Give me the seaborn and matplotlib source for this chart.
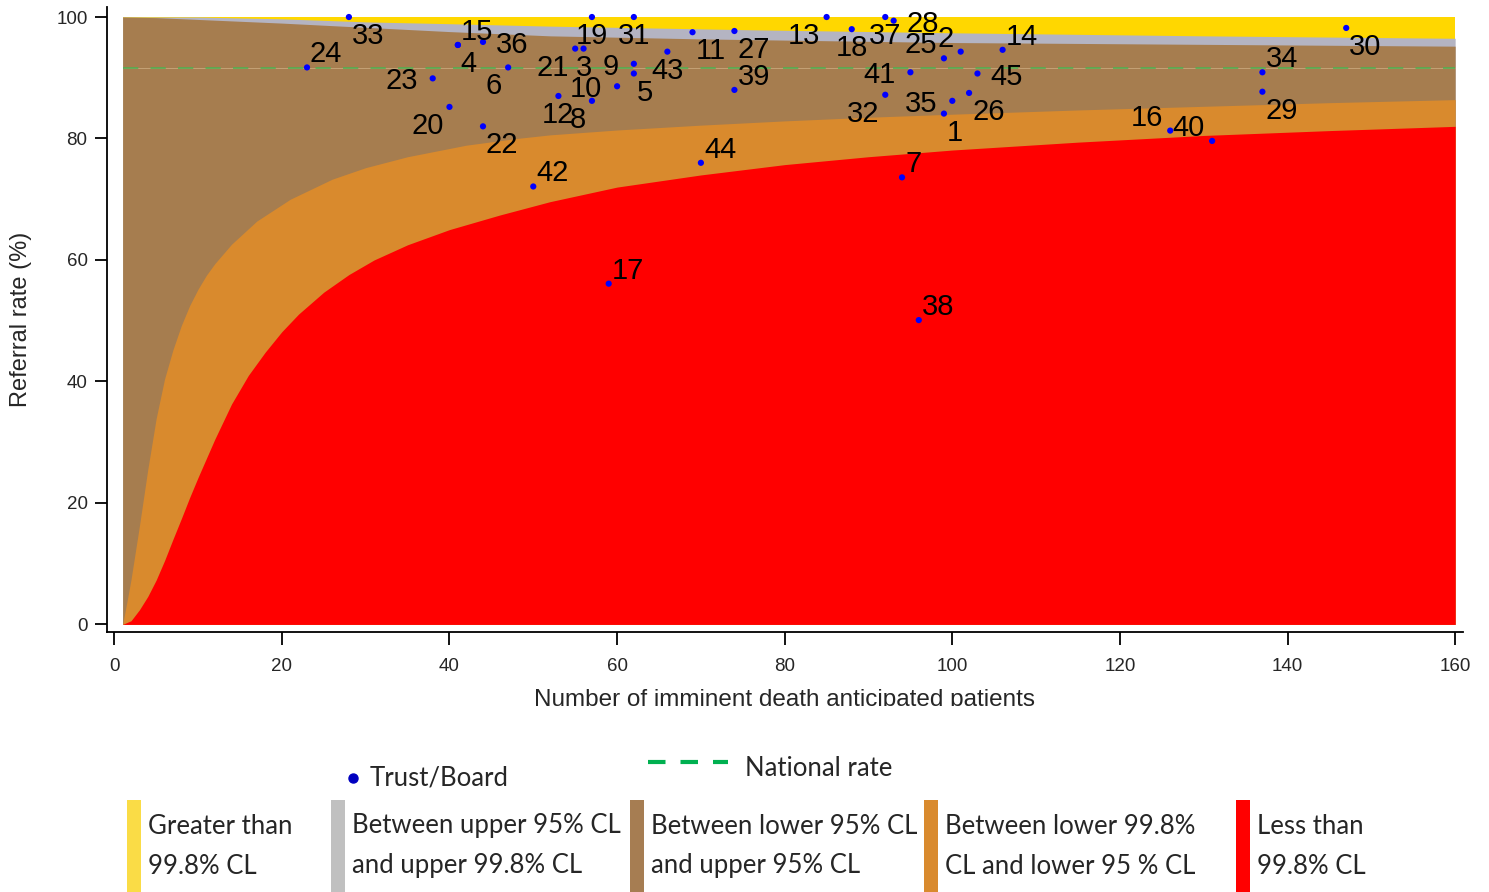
import matplotlib
matplotlib.use("Agg")
import matplotlib.pyplot as plt
from matplotlib.patches import Rectangle
from matplotlib.lines import Line2D
import numpy as np
import pandas as pd
import seaborn as sns

# ---- trust / board points ----
trust_ids = list(range(1, 46))
patients = [99, 101, 56, 41, 62, 47, 94, 57, 62, 60, 69, 53, 85, 106, 41,
            126, 59, 88, 57, 40, 55, 44, 38, 23, 99, 102, 74, 93, 137, 147,
            62, 92, 28, 137, 100, 44, 92, 96, 74, 131, 95, 50, 66, 70, 103]
referral_rate = [84.1, 94.3, 94.8, 95.4, 90.7, 91.7, 73.6, 86.2, 92.3, 88.6,
                 97.5, 87.0, 100, 94.6, 95.4, 81.3, 56.1, 98.0, 100, 85.2,
                 94.8, 82.0, 89.9, 91.7, 93.2, 87.5, 97.7, 99.4, 87.7, 98.2,
                 100, 87.2, 100, 90.9, 86.2, 95.9, 100, 50.1, 88.0, 79.6,
                 90.9, 72.1, 94.3, 76.0, 90.7]
national_rate = 91.6

# ---- funnel limits ----
n_lo998 = [1, 2, 3, 4, 5, 6, 7, 8, 9, 10, 12, 14, 16, 18, 20, 22, 25, 28, 31,
           35, 40, 46, 52, 60, 70, 80, 90, 100, 115, 130, 145, 160]
lo998 = [0, 0.6, 2.4, 4.6, 7.3, 10.5, 14.0, 17.4, 20.9, 24.2, 30.5, 36.3, 41.0,
         44.8, 48.2, 51.1, 54.7, 57.6, 60.0, 62.5, 65.0, 67.4, 69.6, 72.0,
         74.0, 75.7, 77.0, 78.1, 79.4, 80.5, 81.3, 82.0]

n_lo95 = [1, 1.5, 2, 3, 4, 5, 6, 7, 8, 9, 10, 11, 12, 14, 17, 21, 26, 30, 35,
          42, 48, 52, 60, 70, 80, 90, 100, 115, 130, 145, 160]
lo95 = [0, 3.6, 7.4, 16.2, 25.5, 33.9, 40.4, 45.2, 49.2, 52.5, 55.2, 57.5,
        59.4, 62.6, 66.4, 70.0, 73.3, 75.2, 77.0, 78.9, 80.0, 80.6, 81.4,
        82.2, 82.9, 83.5, 84.0, 84.7, 85.3, 85.9, 86.4]

n_up95 = [1, 5, 10, 20, 30, 40, 52, 70, 100, 130, 160]
up95 = [100, 99.9, 99.6, 99.0, 98.3, 97.6, 96.9, 96.4, 95.8, 95.5, 95.2]

n_up998 = [1, 10, 20, 30, 40, 52, 76, 100, 130, 160]
up998 = [100, 100, 99.7, 99.2, 98.9, 98.5, 97.9, 97.4, 96.9, 96.5]

# label position around each dot (clock face, like stata mlabvpos)
label_clock = [5, 11, 6, 5, 5, 7, 1, 7, 9, 9, 5, 6, 7, 1, 1, 11, 1, 6, 6, 7,
               7, 5, 9, 1, 11, 5, 5, 3, 5, 5, 6, 7, 5, 1, 9, 3, 6, 1, 1, 11,
               9, 1, 6, 1, 3]

legend_labels = [("Greater than", "99.8% CL"),
                 ("Between upper 95% CL", "and upper 99.8% CL"),
                 ("Between lower 95% CL", "and upper 95% CL"),
                 ("Between lower 99.8%", "CL and lower 95 % CL"),
                 ("Less than", "99.8% CL")]

YELLOW, GREY, BROWN, ORANGE, RED = "#FFD700", "#B4B4C2", "#A67D4F", "#D98A2D", "#FF0000"
LEG_COLS = ["#FADC46", "#C0C0C0", "#A67D52", "#D98A2E", "#FF0000"]

W, H = 1489, 892
sns.set_style("ticks")
plt.rcParams["font.family"] = ["Liberation Sans", "DejaVu Sans"]

fig = plt.figure(figsize=(W / 100, H / 100), dpi=100)
ax = fig.add_axes([106.7 / W, 1 - 632.3 / H, (1462.7 - 106.7) / W, (632.3 - 7.3) / H])

# bands, stacked from the top down
ax.fill_between([1, 160], 0, 100, color=YELLOW, lw=0)
ax.fill_between(n_up998, 0, up998, color=GREY, lw=0)
ax.fill_between(n_up95, 0, up95, color=BROWN, lw=0)
ax.fill_between(n_lo95, 0, lo95, color=ORANGE, lw=0)
ax.fill_between(n_lo998, 0, lo998, color=RED, lw=0)

ax.hlines(national_rate, 1, 160, color="#C9A77C", lw=0.6, zorder=3)
ax.hlines(national_rate, 1, 160, color="#4CB050", lw=1.1,
          linestyles=(0, (10, 8)), zorder=3)

df = pd.DataFrame({"id": trust_ids, "n": patients, "rate": referral_rate})
sns.scatterplot(data=df, x="n", y="rate", ax=ax, color="#0000FF", s=20,
                edgecolor="none", zorder=4, legend=False)

CLOCK = {1: ("left", 3, 5), 3: ("left", 13, -11), 5: ("left", 3, -27),
         6: ("center", 0, -27), 7: ("right", -6, -27), 9: ("right", -15, -11),
         11: ("right", -7, 5)}
for tid, n, r, pos in zip(trust_ids, patients, referral_rate, label_clock):
    ha, dx, dy = CLOCK[pos]
    ax.annotate(str(tid), (n, r), xytext=(dx * 0.72, dy * 0.72),
                textcoords="offset points", ha=ha, va="baseline",
                fontsize=21, color="black", zorder=5)

ax.set_xlim(-0.9, 160.9)
ax.set_ylim(-1.3, 101.6)
ax.set_xticks(range(0, 161, 20))
ax.set_yticks(range(0, 101, 20))
ax.set_xlabel("")
ax.set_ylabel("")
ax.tick_params(axis="both", labelsize=13.5, length=9, width=1.3, color="black")
ax.tick_params(axis="x", pad=9.5)
ax.tick_params(axis="y", pad=4.8)
for s in ["left", "bottom"]:
    ax.spines[s].set_linewidth(1.3)
    ax.spines[s].set_color("black")
sns.despine(ax=ax)


def fx(px):
    return px / W


def fy(py):
    return 1 - py / H


fig.text(fx(21.5), fy(319), "Referral rate (%)", rotation=90, ha="center",
         va="center", fontsize=17)
# x title is cut off at the bottom in the original
fig.text(fx(785), fy(706), "Number of imminent death anticipated patients",
         ha="center", va="baseline", fontsize=17.5)
fig.add_artist(Rectangle((fx(450), fy(745)), fx(700), fy(706) - fy(745),
                         transform=fig.transFigure, color="white", lw=0, zorder=5))

# ---- legend ----
leg_font = ["Lato", "DejaVu Sans"]
fig.add_artist(Line2D([fx(353)], [fy(778)], marker="o", markersize=6.5,
                      color="#0000C0", transform=fig.transFigure, zorder=6))
fig.text(fx(370), fy(778), "Trust/Board", ha="left", va="center",
         fontsize=18.5, family=leg_font, zorder=6)
fig.add_artist(Line2D([fx(648), fx(728)], [fy(762), fy(762)], color="#00B050",
                      lw=3, dashes=(4.2, 3.6), transform=fig.transFigure, zorder=6))
fig.text(fx(745), fy(769), "National rate", ha="left", va="center",
         fontsize=18.5, family=leg_font, zorder=6)

bar_x = [127, 331, 630, 924, 1236]
for bx, col, (l1, l2) in zip(bar_x, LEG_COLS, legend_labels):
    fig.add_artist(Rectangle((fx(bx), 0), fx(14), fy(800), color=col, lw=0,
                             transform=fig.transFigure, zorder=6))
    fig.text(fx(bx + 21), fy(826), l1, ha="left", va="center", fontsize=18.5,
             family=leg_font, zorder=6)
    fig.text(fx(bx + 21), fy(866), l2, ha="left", va="center", fontsize=18.5,
             family=leg_font, zorder=6)

fig.savefig("out.png", dpi=100)
